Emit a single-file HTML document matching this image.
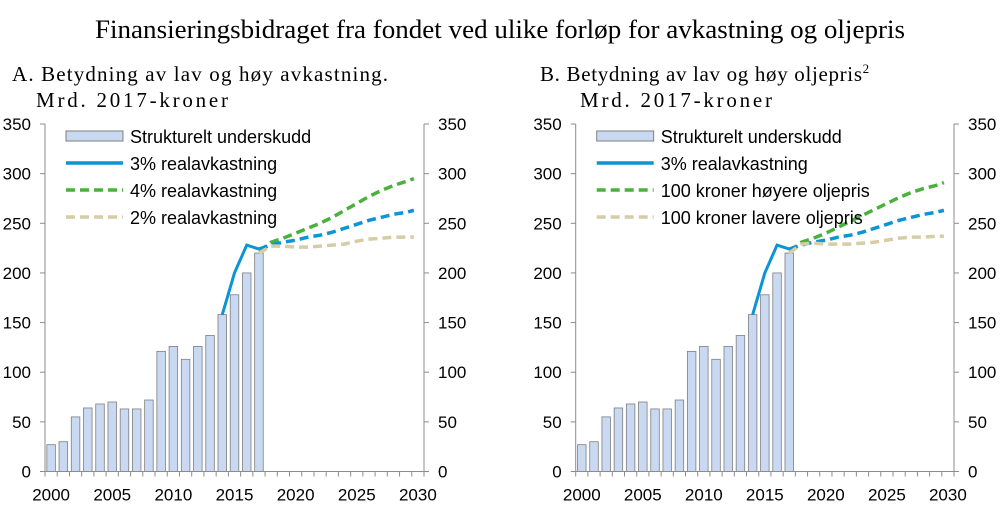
<!DOCTYPE html>
<html><head><meta charset="utf-8"><style>
body{margin:0;background:#fff;width:1000px;height:523px;overflow:hidden}
svg{display:block}
text{font-family:"Liberation Sans",sans-serif}
.serif{font-family:"Liberation Serif",serif}
</style></head><body>
<svg id="c" width="1000" height="523">
<text class="serif" x="95" y="38" textLength="810" lengthAdjust="spacingAndGlyphs" font-size="26" fill="#000">Finansieringsbidraget fra fondet ved ulike forløp for avkastning og oljepris</text>
<text class="serif" x="12" y="81" textLength="376" lengthAdjust="spacing" font-size="21">A.  Betydning av lav og høy avkastning.</text>
<text class="serif" x="36" y="107" textLength="192" lengthAdjust="spacing" font-size="21">Mrd. 2017-kroner</text>
<text class="serif" x="540" y="81" font-size="21"><tspan textLength="322" lengthAdjust="spacing">B.  Betydning av lav og høy oljepris</tspan><tspan font-size="13" dy="-8">2</tspan></text>
<text class="serif" x="580" y="107" textLength="192" lengthAdjust="spacing" font-size="21">Mrd. 2017-kroner</text>
</svg>
<script>
const years=[];for(let y=2000;y<=2030;y++)years.push(y);
const yTicks=[0,50,100,150,200,250,300,350];
const xTickLabels=[2000,2005,2010,2015,2020,2025,2030];
const deficit=[27,30,55,64,68,70,63,63,72,121,126,113,126,137,158,178,200,220];
const base3Hist=[[2014,158],[2015,200],[2016,228],[2017,224]];
const base3Proj=[224,228,231,233,236,238,241,245,249,253,256,259,261,263];
const a4Proj=[222,231,235,240,245,250,256,263,270,277,283,288,292,295];
const a2Proj=[220,227,227,226,226,227,228,229,232,234,235,236,236,236];
const bHighProj=[222,231,235,240,246,252,258,264,270,276,281,285,288,291];
const bLowProj=[220,229,230,229,229,229,230,231,233,235,236,236,237,237];
const projYears=[2017,2018,2019,2020,2021,2022,2023,2024,2025,2026,2027,2028,2029,2030];

const svg=document.getElementById('c');const NS='http://www.w3.org/2000/svg';
function mk(tag,attrs,parent){const e=document.createElementNS(NS,tag);for(const k in attrs)e.setAttribute(k,attrs[k]);(parent||svg).appendChild(e);return e;}
function panel(id,L,R,high,low,legend){
  const T=124,B=471.5,n=31,cw=(R-L)/n;
  const xs=y=>L+cw*(y-2000+0.5);
  const xl=y=>y===2030?xs(y)-4:xs(y);
  const ys=v=>B-(v/350)*(B-T);
  const g=mk('g',{});
  
  
  deficit.forEach((v,i)=>{const r=mk('rect',{x:xs(2000+i)-cw*0.35,y:ys(v),width:cw*0.7,height:B-ys(v),fill:'#c9d9f2',stroke:'#7f7f7f','stroke-width':0.8},g);
    
    });
  mk('path',{d:`M${L},${T}V${B}H${R}V${T}`,fill:'none',stroke:'#8c8c8c','stroke-width':1},g);
  yTicks.forEach(t=>{mk('line',{x1:L-5,x2:L,y1:ys(t),y2:ys(t),stroke:'#8c8c8c'},g);mk('line',{x1:R,x2:R+5,y1:ys(t),y2:ys(t),stroke:'#8c8c8c'},g);
    const a=mk('text',{x:L-14,y:ys(t)+6,'text-anchor':'end','font-size':17},g);a.textContent=t;
    
    
    const b=mk('text',{x:R+14,y:ys(t)+6,'font-size':17},g);b.textContent=t;
    
    });
  for(let i=0;i<=n;i++)mk('line',{x1:L+cw*i,x2:L+cw*i,y1:B,y2:B+5,stroke:'#8c8c8c'},g);
  xTickLabels.forEach(y=>{const t=mk('text',{x:xs(y),y:B+29,'text-anchor':'middle','font-size':17},g);t.textContent=y;
    
    });
  const pts=(yrs,vals)=>yrs.map((y,i)=>xl(y)+','+ys(vals[i])).join(' ');
  const l1=mk('polyline',{points:base3Hist.map(p=>xs(p[0])+','+ys(p[1])).join(' '),fill:'none',stroke:'#0b94d6','stroke-width':3},g);
  
  
  const l2=mk('polyline',{points:pts(projYears,high),fill:'none',stroke:'#4bb13d','stroke-width':3.5,'stroke-dasharray':'9 5'},g);
  
  
  const l3=mk('polyline',{points:pts(projYears,base3Proj),fill:'none',stroke:'#0b94d6','stroke-width':3.5,'stroke-dasharray':'9 5'},g);
  
  
  const l4=mk('polyline',{points:pts(projYears,low),fill:'none',stroke:'#d6cca6','stroke-width':3.5,'stroke-dasharray':'9 5'},g);
  
  
  const lx=L+21,ly=[138,165,192,219];
  const lr=mk('rect',{x:lx,y:ly[0]-7,width:57,height:10,fill:'#c9d9f2',stroke:'#7f7f7f'},g);
  
  
  const st=[['#0b94d6',null],['#4bb13d','9 5'],['#d6cca6','9 5']];
  st.forEach((s,i)=>{const ln=mk('line',{x1:lx,x2:lx+57,y1:ly[i+1]-2,y2:ly[i+1]-2,stroke:s[0],'stroke-width':3.5},g);if(s[1])ln.setAttribute('stroke-dasharray',s[1]);
    
    });
  legend.forEach((t,i)=>{const e=mk('text',{x:lx+64,y:ly[i]+5,'font-size':18},g);e.textContent=t;
    
    });
}
panel('panel-a',45,424,a4Proj,a2Proj,['Strukturelt underskudd','3% realavkastning','4% realavkastning','2% realavkastning']);
panel('panel-b',575.7,954,bHighProj,bLowProj,['Strukturelt underskudd','3% realavkastning','100 kroner høyere oljepris','100 kroner lavere oljepris']);
</script>
</body></html>
